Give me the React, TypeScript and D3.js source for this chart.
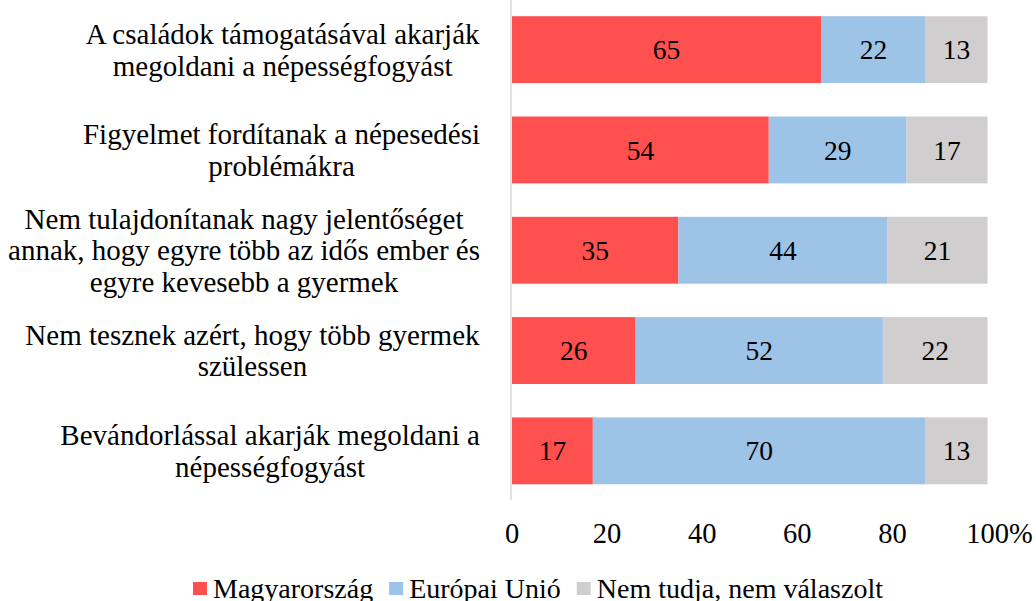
import React, { useEffect, useRef } from "react";
import * as d3 from "d3";

const categories: string[][] = [
  ["A családok támogatásával akarják", "megoldani a népességfogyást"],
  ["Figyelmet fordítanak a népesedési", "problémákra"],
  ["Nem tulajdonítanak nagy jelentőséget", "annak, hogy egyre több az idős ember és", "egyre kevesebb a gyermek"],
  ["Nem tesznek azért, hogy több gyermek", "szülessen"],
  ["Bevándorlással akarják megoldani a", "népességfogyást"],
];
const seriesNames = ["Magyarország", "Európai Unió", "Nem tudja, nem válaszolt"];
const magyarorszag = [65, 54, 35, 26, 17];
const europaiUnio = [22, 29, 44, 52, 70];
const nemTudja = [13, 17, 21, 22, 13];
const colors = ["#FF5050", "#9DC3E6", "#D0CECE"];
const ticks = [0, 20, 40, 60, 80, 100];

const W = 1036;
const H = 601;
const FONT = "'Liberation Serif', 'Times New Roman', serif";
const FS_CAT = 29;
const FS_DATA = 27.5;
const FS_TICK = 28.5;
const FS_LEG = 28;

export default function App() {
  const ref = useRef<SVGSVGElement>(null);

  useEffect(() => {
    const svg = d3.select(ref.current);
    svg.selectAll("*").remove();

    const x = d3.scaleLinear().domain([0, 100]).range([512, 987.5]);
    const y = d3
      .scaleBand<number>()
      .domain(d3.range(categories.length))
      .range([-0.5, 501])
      .paddingInner(1 / 3)
      .paddingOuter(1 / 6);

    const series = [magyarorszag, europaiUnio, nemTudja];
    const rows = categories.map((_, i) => ({
      i,
      vals: series.map((s) => s[i]),
    }));
    const stack = d3
      .stack<any>()
      .keys(["0", "1", "2"])
      .value((d: any, k: string) => d.vals[+k]);
    const stacked = stack(rows as any);

    const g = svg.append("g");
    stacked.forEach((layer, si) => {
      layer.forEach((seg: any, ci) => {
        g.append("rect")
          .attr("x", x(seg[0]))
          .attr("y", y(ci)!)
          .attr("width", x(seg[1]) - x(seg[0]))
          .attr("height", y.bandwidth())
          .attr("fill", colors[si]);
        g.append("text")
          .attr("x", (x(seg[0]) + x(seg[1])) / 2)
          .attr("y", y(ci)! + y.bandwidth() / 2)
          .attr("dy", "0.35em")
          .attr("text-anchor", "middle")
          .attr("font-family", FONT)
          .attr("font-size", FS_DATA)
          .attr("fill", "#000")
          .text(series[si][ci]);
      });
    });

    // vertical axis line
    svg
      .append("line")
      .attr("x1", x(0) - 1)
      .attr("x2", x(0) - 1)
      .attr("y1", 0)
      .attr("y2", 500)
      .attr("stroke", "#D9D9D9")
      .attr("stroke-width", 1.5);

    // category labels: block right-aligned, lines centered
    const lineH = 31.5;
    categories.forEach((lines, ci) => {
      const cg = svg.append("g");
      const cy = y(ci)! + y.bandwidth() / 2;
      lines.forEach((ln, li) => {
        cg.append("text")
          .attr("x", 0)
          .attr("y", cy + (li - (lines.length - 1) / 2) * lineH)
          .attr("dy", "0.35em")
          .attr("text-anchor", "middle")
          .attr("font-family", FONT)
          .attr("font-size", FS_CAT)
          .attr("fill", "#000")
          .text(ln);
      });
      const bb = (cg.node() as SVGGElement).getBBox();
      const right = 480;
      cg.attr("transform", `translate(${right - (bb.x + bb.width)},0)`);
    });

    // x tick labels
    ticks.forEach((t) => {
      const tt = svg
        .append("text")
        .attr("y", 533)
        .attr("dy", "0.35em")
        .attr("font-family", FONT)
        .attr("font-size", FS_TICK)
        .attr("fill", "#000");
      if (t === 100) {
        tt.attr("text-anchor", "start").text(String(t) + "%");
        const tmp = svg
          .append("text")
          .attr("font-family", FONT)
          .attr("font-size", FS_TICK)
          .text(String(t));
        const w = (tmp.node() as SVGTextElement).getComputedTextLength();
        tmp.remove();
        tt.attr("x", x(t) - w / 2);
      } else {
        tt.attr("x", x(t)).attr("text-anchor", "middle").text(String(t));
      }
    });

    // legend
    const lg = svg.append("g");
    let cx = 0;
    seriesNames.forEach((name, si) => {
      lg.append("rect")
        .attr("x", cx)
        .attr("y", 582)
        .attr("width", 14)
        .attr("height", 13)
        .attr("fill", colors[si]);
      const t = lg
        .append("text")
        .attr("x", cx + 20)
        .attr("y", 588)
        .attr("dy", "0.35em")
        .attr("font-family", FONT)
        .attr("font-size", FS_LEG)
        .attr("fill", "#000")
        .text(name);
      const w = (t.node() as SVGTextElement).getComputedTextLength();
      cx += 20 + w + 16;
    });
    const lb = (lg.node() as SVGGElement).getBBox();
    lg.attr("transform", `translate(${193 - lb.x},0)`);
  }, []);

  return (
    <svg
      ref={ref}
      width={W}
      height={H}
      style={{ position: "absolute", left: 0, top: 0, background: "#fff" }}
    />
  );
}
